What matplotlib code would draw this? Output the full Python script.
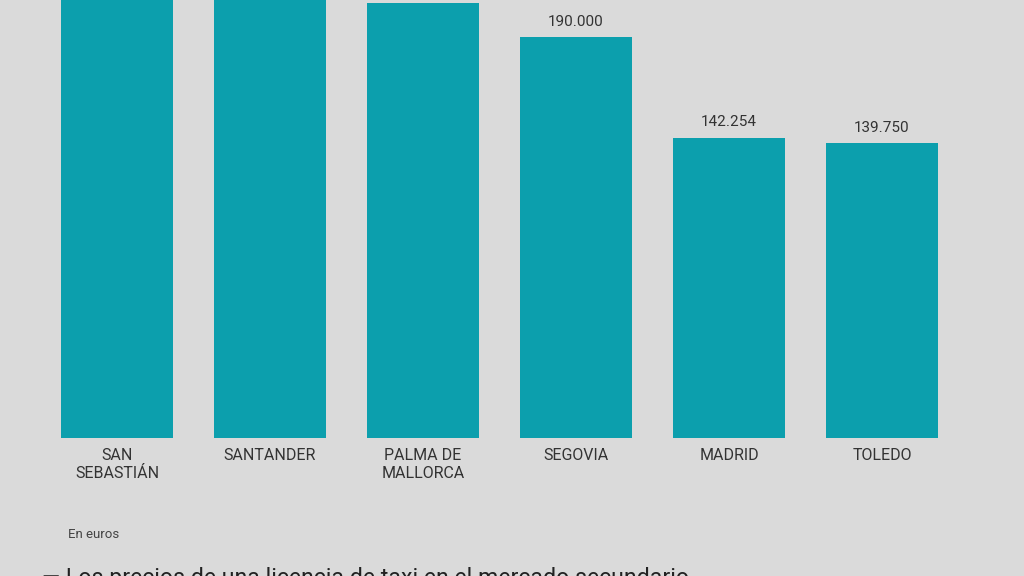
import matplotlib.pyplot as plt

# Precio de una licencia de taxi (euros); las tres primeras barras salen del encuadre
ciudades = ["SAN\nSEBASTIÁN", "SANTANDER", "PALMA DE\nMALLORCA", "SEGOVIA", "MADRID", "TOLEDO"]
precios = [250000, 235000, 206000, 190000, 142254, 139750]
etiquetas = ["250.000", "235.000", "206.000", "190.000", "142.254", "139.750"]

bg = "#dadada"
bar_color = "#0c9fad"
text_color = "#333333"

plt.rcParams['font.family'] = ['Roboto', 'DejaVu Sans']

fig = plt.figure(figsize=(10.24, 5.76), dpi=100, facecolor=bg)
ax = fig.add_axes([0, 138 / 576, 1, 438 / 576])
ax.set_facecolor(bg)

x = list(range(len(ciudades)))
ax.bar(x, precios, width=0.73, color=bar_color)
ax.set_xlim(-0.765, 5.928)
ymax = 207500
ax.set_ylim(0, ymax)

for xi, v, lab in zip(x, precios, etiquetas):
    # las etiquetas de las barras cortadas quedan fuera del encuadre
    if v > ymax * 0.93:
        continue
    ax.annotate(lab, (xi, v), xytext=(0, 6), textcoords="offset points",
                ha="center", va="bottom", fontsize=11, color=text_color)

for xi, c in zip(x, ciudades):
    ax.annotate(c, (xi, 0), xytext=(0, -7), textcoords="offset points",
                ha="center", va="top", fontsize=11.5, color=text_color,
                linespacing=1.3, annotation_clip=False)

for s in ax.spines.values():
    s.set_visible(False)
ax.set_xticks([])
ax.set_yticks([])

fig.text(68 / 1024, 1 - 535 / 576, "En euros", fontsize=9.5, color="#444444", va="center")
fig.text(42 / 1024, 1 - 585 / 576, "— Los precios de una licencia de taxi en el mercado secundario",
         fontsize=16.7, color="#222222", va="baseline")

fig.savefig("out.png", dpi=100, facecolor=bg)
